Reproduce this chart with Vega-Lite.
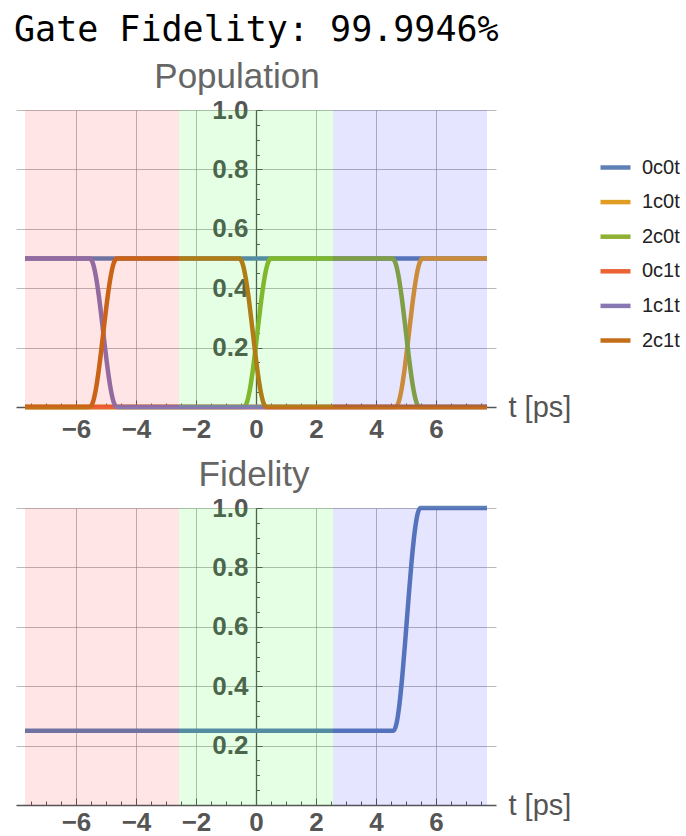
{
  "$schema": "https://vega.github.io/schema/vega-lite/v6.json",
  "padding": {"left": 13, "top": 13, "right": 0, "bottom": 0},
  "background": "white",
  "title": {"text": "Gate Fidelity: 99.9946%", "anchor": "start", "font": "DejaVu Sans Mono", "fontSize": 35, "fontWeight": "normal", "color": "#000000", "offset": 12, "dx": -2},
  "spacing": 13,
  "config": {
    "view": {"stroke": null},
    "font": "Liberation Sans",
    "axis": {
      "labelFont": "Liberation Sans", "labelFontWeight": "bold", "labelFontSize": 26, "labelColor": "#555555",
      "labelFlush": false, "labelOverlap": false, "labelBound": false,
      "tickColor": "#555555", "tickWidth": 1, "domainColor": "#555555", "domainWidth": 1.3,
      "gridColor": "#8c8c8c", "gridWidth": 1
    },
    "legend": {"labelFont": "Liberation Sans"}
  },
  "datasets": {
    "regions": [
      {"t0": -7.7, "t1": -2.567, "region": "A"},
      {"t0": -2.567, "t1": 2.567, "region": "B"},
      {"t0": 2.567, "t1": 7.7, "region": "C"}
    ],
    "pop": [
      {"s": "0c0t", "t": -7.7, "p": 0.5}, {"s": "0c0t", "t": 7.7, "p": 0.5},
      {"s": "1c0t", "t": -7.7, "p": 0}, {"s": "1c0t", "t": 4.65, "p": 0}, {"s": "1c0t", "t": 4.75, "p": 0.015}, {"s": "1c0t", "t": 4.85, "p": 0.0585}, {"s": "1c0t", "t": 4.95, "p": 0.125}, {"s": "1c0t", "t": 5.05, "p": 0.2066}, {"s": "1c0t", "t": 5.15, "p": 0.2934}, {"s": "1c0t", "t": 5.25, "p": 0.375}, {"s": "1c0t", "t": 5.35, "p": 0.4415}, {"s": "1c0t", "t": 5.45, "p": 0.485}, {"s": "1c0t", "t": 5.55, "p": 0.5}, {"s": "1c0t", "t": 7.7, "p": 0.5},
      {"s": "2c0t", "t": -7.7, "p": 0}, {"s": "2c0t", "t": -0.405, "p": 0}, {"s": "2c0t", "t": -0.305, "p": 0.015}, {"s": "2c0t", "t": -0.205, "p": 0.0585}, {"s": "2c0t", "t": -0.105, "p": 0.125}, {"s": "2c0t", "t": -0.005, "p": 0.2066}, {"s": "2c0t", "t": 0.095, "p": 0.2934}, {"s": "2c0t", "t": 0.195, "p": 0.375}, {"s": "2c0t", "t": 0.295, "p": 0.4415}, {"s": "2c0t", "t": 0.395, "p": 0.485}, {"s": "2c0t", "t": 0.495, "p": 0.5}, {"s": "2c0t", "t": 4.55, "p": 0.5}, {"s": "2c0t", "t": 4.65, "p": 0.485}, {"s": "2c0t", "t": 4.75, "p": 0.4415}, {"s": "2c0t", "t": 4.85, "p": 0.375}, {"s": "2c0t", "t": 4.95, "p": 0.2934}, {"s": "2c0t", "t": 5.05, "p": 0.2066}, {"s": "2c0t", "t": 5.15, "p": 0.125}, {"s": "2c0t", "t": 5.25, "p": 0.0585}, {"s": "2c0t", "t": 5.35, "p": 0.015}, {"s": "2c0t", "t": 5.45, "p": 0}, {"s": "2c0t", "t": 7.7, "p": 0},
      {"s": "0c1t", "t": -7.7, "p": 0}, {"s": "0c1t", "t": 7.7, "p": 0},
      {"s": "1c1t", "t": -7.7, "p": 0.5}, {"s": "1c1t", "t": -5.54, "p": 0.5}, {"s": "1c1t", "t": -5.44, "p": 0.485}, {"s": "1c1t", "t": -5.34, "p": 0.4415}, {"s": "1c1t", "t": -5.24, "p": 0.375}, {"s": "1c1t", "t": -5.14, "p": 0.2934}, {"s": "1c1t", "t": -5.04, "p": 0.2066}, {"s": "1c1t", "t": -4.94, "p": 0.125}, {"s": "1c1t", "t": -4.84, "p": 0.0585}, {"s": "1c1t", "t": -4.74, "p": 0.015}, {"s": "1c1t", "t": -4.64, "p": 0}, {"s": "1c1t", "t": 7.7, "p": 0},
      {"s": "2c1t", "t": -7.7, "p": 0}, {"s": "2c1t", "t": -5.54, "p": 0}, {"s": "2c1t", "t": -5.44, "p": 0.015}, {"s": "2c1t", "t": -5.34, "p": 0.0585}, {"s": "2c1t", "t": -5.24, "p": 0.125}, {"s": "2c1t", "t": -5.14, "p": 0.2066}, {"s": "2c1t", "t": -5.04, "p": 0.2934}, {"s": "2c1t", "t": -4.94, "p": 0.375}, {"s": "2c1t", "t": -4.84, "p": 0.4415}, {"s": "2c1t", "t": -4.74, "p": 0.485}, {"s": "2c1t", "t": -4.64, "p": 0.5}, {"s": "2c1t", "t": -0.555, "p": 0.5}, {"s": "2c1t", "t": -0.455, "p": 0.485}, {"s": "2c1t", "t": -0.355, "p": 0.4415}, {"s": "2c1t", "t": -0.255, "p": 0.375}, {"s": "2c1t", "t": -0.155, "p": 0.2934}, {"s": "2c1t", "t": -0.055, "p": 0.2066}, {"s": "2c1t", "t": 0.045, "p": 0.125}, {"s": "2c1t", "t": 0.145, "p": 0.0585}, {"s": "2c1t", "t": 0.245, "p": 0.015}, {"s": "2c1t", "t": 0.345, "p": 0}, {"s": "2c1t", "t": 7.7, "p": 0}
    ],
    "fid": [
      {"t": -7.7, "f": 0.25}, {"t": 4.58, "f": 0.25}, {"t": 4.68, "f": 0.2725}, {"t": 4.78, "f": 0.3378}, {"t": 4.88, "f": 0.4375}, {"t": 4.98, "f": 0.56}, {"t": 5.08, "f": 0.69}, {"t": 5.18, "f": 0.8125}, {"t": 5.28, "f": 0.912}, {"t": 5.38, "f": 0.9775}, {"t": 5.48, "f": 1.0}, {"t": 7.7, "f": 1.0}
    ]
  },
  "vconcat": [
    {
      "width": 480, "height": 297,
      "title": {"text": "Population", "font": "Liberation Sans", "fontSize": 35, "fontWeight": "normal", "color": "#666666", "anchor": "middle", "frame": "group", "dx": -19, "offset": 2},
      "layer": [
        {
          "data": {"name": "pop"},
          "mark": {"type": "line", "strokeWidth": 4.5, "interpolate": "monotone"},
          "encoding": {
            "x": {"field": "t", "type": "quantitative", "scale": {"domain": [-8, 8], "nice": false, "zero": false},
              "axis": {
                "values": [-7.5,-7,-6.5,-6,-5.5,-5,-4.5,-4,-3.5,-3,-2.5,-2,-1.5,-1,-0.5,0,0.5,1,1.5,2,2.5,3,3.5,4,4.5,5,5.5,6,6.5,7,7.5],
                "tickCount": 100,
                "title": "t [ps]", "titleX": 492, "titleY": 0, "titleAlign": "left", "titleBaseline": "middle", "titleAngle": 0,
                "titleFont": "Liberation Sans", "titleFontSize": 29, "titleFontWeight": "normal", "titleColor": "#555555",
                "labelExpr": "abs(datum.value/2 - round(datum.value/2)) < 0.001 ? format(datum.value, 'd') : ''",
                "labelPadding": 16,
                "tickSize": {"condition": {"test": "abs(datum.value/2 - round(datum.value/2)) < 0.001", "value": -7}, "value": -4},
                "grid": true,
                "gridOpacity": {"condition": {"test": "abs(datum.value/2 - round(datum.value/2)) < 0.001 && datum.value !== 0", "value": 0.6}, "value": 0}
              }},
            "y": {"field": "p", "type": "quantitative", "scale": {"domain": [0, 1], "nice": false},
              "axis": {
                "values": [0.05,0.1,0.15,0.2,0.25,0.3,0.35,0.4,0.45,0.5,0.55,0.6,0.65,0.7,0.75,0.8,0.85,0.9,0.95,1.0],
                "tickCount": 100,
                "offset": -240, "title": null,
                "labelExpr": "abs(datum.value*5 - round(datum.value*5)) < 0.001 ? format(datum.value, '.1f') : ''",
                "labelPadding": 14,
                "tickSize": {"condition": {"test": "abs(datum.value*5 - round(datum.value*5)) < 0.001", "value": -6}, "value": -3.5},
                "grid": true,
                "gridOpacity": {"condition": {"test": "abs(datum.value*5 - round(datum.value*5)) < 0.001", "value": 0.6}, "value": 0}
              }},
            "color": {"field": "s", "type": "nominal",
              "scale": {"domain": ["0c0t", "1c0t", "2c0t", "0c1t", "1c1t", "2c1t"], "range": ["#5E81B5", "#E19C24", "#8FB032", "#EB6235", "#8778B3", "#C56E1A"]},
              "legend": {"orient": "none", "legendX": 582, "legendY": 40, "title": null, "symbolType": "stroke", "symbolStrokeWidth": 4.5, "symbolSize": 900, "labelFontSize": 20, "labelColor": "#222222", "labelOffset": 9, "rowPadding": 6.6, "padding": 0}}
          }
        },
        {
          "data": {"name": "regions"},
          "mark": {"type": "rect", "fillOpacity": 0.1},
          "encoding": {
            "x": {"field": "t0", "type": "quantitative"},
            "x2": {"field": "t1"},
            "fill": {"field": "region", "type": "nominal", "scale": {"domain": ["A", "B", "C"], "range": ["#FF0000", "#00FF00", "#0000FF"]}, "legend": null}
          }
        }
      ]
    },
    {
      "width": 480, "height": 297,
      "title": {"text": "Fidelity", "font": "Liberation Sans", "fontSize": 35, "fontWeight": "normal", "color": "#666666", "anchor": "middle", "frame": "group", "dx": -2, "offset": 2},
      "layer": [
        {
          "data": {"name": "fid"},
          "mark": {"type": "line", "strokeWidth": 4.5, "interpolate": "monotone", "color": "#5E81B5"},
          "encoding": {
            "x": {"field": "t", "type": "quantitative", "scale": {"domain": [-8, 8], "nice": false, "zero": false},
              "axis": {
                "values": [-7.5,-7,-6.5,-6,-5.5,-5,-4.5,-4,-3.5,-3,-2.5,-2,-1.5,-1,-0.5,0,0.5,1,1.5,2,2.5,3,3.5,4,4.5,5,5.5,6,6.5,7,7.5],
                "tickCount": 100,
                "title": "t [ps]", "titleX": 492, "titleY": 0, "titleAlign": "left", "titleBaseline": "middle", "titleAngle": 0,
                "titleFont": "Liberation Sans", "titleFontSize": 29, "titleFontWeight": "normal", "titleColor": "#555555",
                "labelExpr": "abs(datum.value/2 - round(datum.value/2)) < 0.001 ? format(datum.value, 'd') : ''",
                "labelPadding": 11,
                "tickSize": {"condition": {"test": "abs(datum.value/2 - round(datum.value/2)) < 0.001", "value": -7}, "value": -4},
                "grid": true,
                "gridOpacity": {"condition": {"test": "abs(datum.value/2 - round(datum.value/2)) < 0.001 && datum.value !== 0", "value": 0.6}, "value": 0}
              }},
            "y": {"field": "f", "type": "quantitative", "scale": {"domain": [0, 1], "nice": false},
              "axis": {
                "values": [0.05,0.1,0.15,0.2,0.25,0.3,0.35,0.4,0.45,0.5,0.55,0.6,0.65,0.7,0.75,0.8,0.85,0.9,0.95,1.0],
                "tickCount": 100,
                "offset": -240, "title": null,
                "labelExpr": "abs(datum.value*5 - round(datum.value*5)) < 0.001 ? format(datum.value, '.1f') : ''",
                "labelPadding": 14,
                "tickSize": {"condition": {"test": "abs(datum.value*5 - round(datum.value*5)) < 0.001", "value": -6}, "value": -3.5},
                "grid": true,
                "gridOpacity": {"condition": {"test": "abs(datum.value*5 - round(datum.value*5)) < 0.001", "value": 0.6}, "value": 0}
              }}
          }
        },
        {
          "data": {"name": "regions"},
          "mark": {"type": "rect", "fillOpacity": 0.1},
          "encoding": {
            "x": {"field": "t0", "type": "quantitative"},
            "x2": {"field": "t1"},
            "fill": {"field": "region", "type": "nominal", "scale": {"domain": ["A", "B", "C"], "range": ["#FF0000", "#00FF00", "#0000FF"]}, "legend": null}
          }
        }
      ]
    }
  ]
}
